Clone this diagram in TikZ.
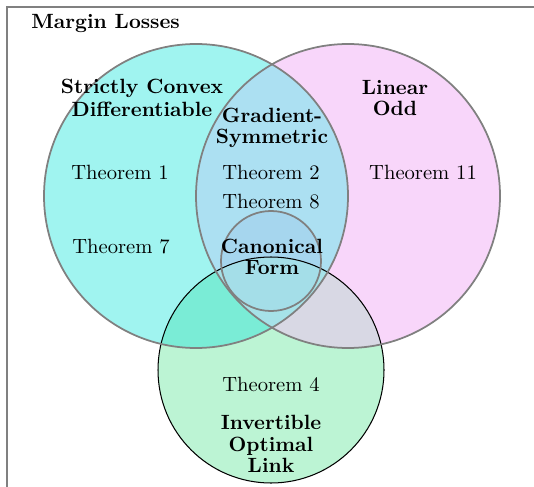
\documentclass[tikz,border=0pt]{standalone}
\usepackage{tikz}
\definecolor{cL}{RGB}{160,244,240}
\definecolor{cR}{RGB}{248,214,250}
\definecolor{cLR}{RGB}{172,224,242}
\definecolor{cG}{RGB}{188,244,212}
\definecolor{cLG}{RGB}{122,236,214}
\definecolor{cRG}{RGB}{216,216,228}
\definecolor{cLRG}{RGB}{166,226,232}
\definecolor{cS}{RGB}{166,214,238}
\definecolor{cSG}{RGB}{164,222,232}
\definecolor{edge}{RGB}{128,128,128}
\tikzset{
  lbl/.style={font=\bfseries, align=center, inner sep=0pt},
  thm/.style={inner sep=0pt},
  ring/.style={draw=edge, line width=0.85pt},
}
\begin{document}
\begin{tikzpicture}[x=0.485pt,y=-0.485pt]
\useasboundingbox (0,0) rectangle (534,487);
\coordinate (cl) at (196,196);
\coordinate (cr) at (348,196);
\coordinate (cs) at (271,261);
\coordinate (cg) at (271,370);
% fills
\fill[cL] (cl) circle[radius=152];
\fill[cR] (cr) circle[radius=152];
\begin{scope}
  \clip (cl) circle[radius=152];
  \fill[cLR] (cr) circle[radius=152];
\end{scope}
\fill[cG] (cg) circle[radius=113];
\begin{scope}
  \clip (cg) circle[radius=113];
  \fill[cLG] (cl) circle[radius=152];
  \fill[cRG] (cr) circle[radius=152];
  \clip (cl) circle[radius=152];
  \fill[cLRG] (cr) circle[radius=152];
\end{scope}
\fill[cS] (cs) circle[radius=50];
\begin{scope}
  \clip (cs) circle[radius=50];
  \fill[cSG] (cg) circle[radius=113];
\end{scope}
% outlines
\draw[black, line width=0.5pt] (cg) circle[radius=113];
\draw[ring] (cl) circle[radius=152];
\draw[ring] (cr) circle[radius=152];
\draw[ring] (cs) circle[radius=50];
% frame
\draw[edge, line width=0.6pt] (7,487) -- (7,7) -- (534,7);
% texts
\node[lbl, anchor=west] (title) at (31,24) {Margin Losses};
\node[lbl] (sc) at (142,98) {Strictly Convex\\[-0.5pt]Differentiable};
\node[lbl] (gs) at (272,128) {Gradient-\\[-1.5pt]Symmetric};
\node[lbl] (lo) at (395,98) {Linear\\[-1.5pt]Odd};
\node[lbl] (cf) at (272,257) {Canonical\\[-1.5pt]Form};
\node[lbl] (iol) at (271,444) {Invertible\\[-1.5pt]Optimal\\[-1.5pt]Link};
\node[thm] (t1) at (120,172) {Theorem 1};
\node[thm] (t2) at (271,172) {Theorem 2};
\node[thm] (t8) at (271,202) {Theorem 8};
\node[thm] (t11) at (423,172) {Theorem 11};
\node[thm] (t7) at (121,247) {Theorem 7};
\node[thm] (t4) at (271,384) {Theorem 4};
\end{tikzpicture}
\end{document}
